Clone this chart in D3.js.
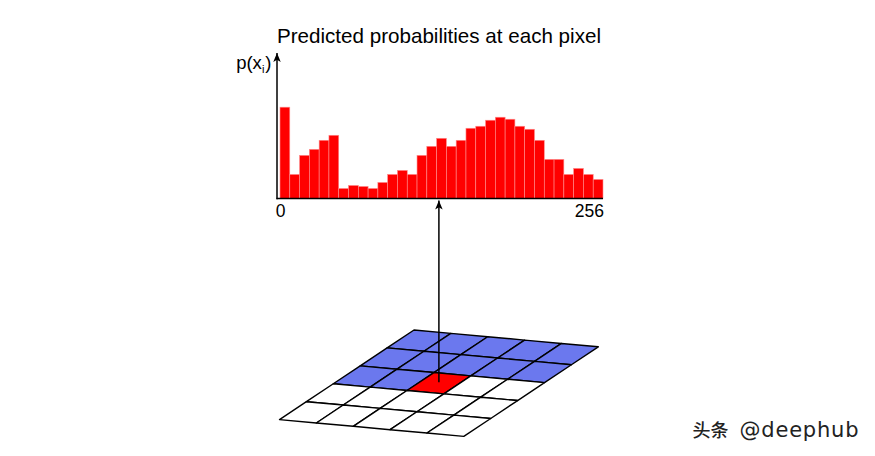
<!DOCTYPE html>
<html>
<head>
<meta charset="utf-8">
<script src="https://cdn.jsdelivr.net/npm/d3@7"></script>
<style>
  html, body { margin: 0; padding: 0; background: #fff; }
  svg { display: block; }
</style>
</head>
<body>
<script>
// ---- data ----
const title = "Predicted probabilities at each pixel";
const binValues = [91, 24, 43, 49, 58, 63, 10, 13, 12, 10, 16, 24, 28, 24, 43, 52, 60, 52, 58, 70, 72, 78, 81, 79, 72, 69, 58, 39, 39, 24, 30, 24, 19];
const xTickLabels = ["0", "256"];
const gridRows = 5;
const gridCols = 5;
// cell state per row: "b" = context (blue), "r" = current pixel, "w" = unseen
const gridMask = [
  ["b", "b", "b", "b", "b"],
  ["b", "b", "b", "b", "b"],
  ["b", "b", "r", "w", "w"],
  ["w", "w", "w", "w", "w"],
  ["w", "w", "w", "w", "w"]
];
const watermarkCJK = "头条";
const watermarkLatin = "@deephub";

// ---- drawing ----
const W = 875, H = 456;
const svg = d3.select("body").append("svg").attr("width", W).attr("height", H);

const defs = svg.append("defs");
defs.append("marker")
  .attr("id", "arrow")
  .attr("viewBox", "0 0 10 12")
  .attr("refX", 5).attr("refY", 0)
  .attr("markerWidth", 7.5).attr("markerHeight", 10.5)
  .attr("markerUnits", "userSpaceOnUse")
  .attr("orient", "0")
  .append("path")
  .attr("d", "M5,0 L10,12 L5,9 L0,12 Z")
  .attr("fill", "#000");

const fill = { b: "#6b78ee", r: "#ff0000", w: "#ffffff" };

// histogram
const baseY = 198.5;
const x = d3.scaleBand().domain(d3.range(binValues.length)).range([280, 603]).paddingInner(0);
const y = d3.scaleLinear().domain([0, 141]).range([baseY, 57]);

svg.append("g").selectAll("rect").data(binValues).join("rect")
  .attr("x", (d, i) => x(i))
  .attr("y", d => y(d))
  .attr("width", x.bandwidth())
  .attr("height", d => baseY - y(d))
  .attr("fill", "#ff0000")
  .attr("stroke", "#ff8c8c")
  .attr("stroke-width", 0.6);

// axes
svg.append("line")
  .attr("x1", 276.5).attr("x2", 603).attr("y1", baseY).attr("y2", baseY)
  .attr("stroke", "#000").attr("stroke-width", 1.5);
svg.append("line")
  .attr("x1", 277).attr("x2", 277).attr("y1", baseY + 0.75).attr("y2", 53)
  .attr("stroke", "#000").attr("stroke-width", 1.5)
  .attr("marker-end", "url(#arrow)");

const font = "'Liberation Sans', Arial, Helvetica, sans-serif";
const xLabelScale = d3.scaleLinear().domain([0, 256]).range([280.5, 604]);
svg.append("g").selectAll("text").data(xTickLabels).join("text")
  .attr("x", (d, i) => xLabelScale(+d))
  .attr("y", 216.5)
  .attr("text-anchor", (d, i) => i === 0 ? "middle" : "end")
  .attr("font-family", font).attr("font-size", 17.5)
  .attr("fill", "#000")
  .text(d => d);

// y label p(x_i)
const yl = svg.append("text")
  .attr("x", 271.5).attr("y", 68.5)
  .attr("text-anchor", "end")
  .attr("font-family", font).attr("font-size", 18.5).attr("fill", "#000");
yl.append("tspan").text("p(x");
yl.append("tspan").attr("font-size", 11).attr("dy", 4).text("i");
yl.append("tspan").attr("dy", -4).attr("dx", 1).text(")");

// title
svg.append("text")
  .attr("x", 439).attr("y", 43)
  .attr("text-anchor", "middle")
  .attr("font-family", font).attr("font-size", 20.6).attr("fill", "#000")
  .text(title);

// perspective grid (parallel projection)
const P0 = [414, 330], U = [184.3, 16.8], V = [-134.5, 89.6];
const proj = (c, r) => [P0[0] + c / gridCols * U[0] + r / gridRows * V[0],
                        P0[1] + c / gridCols * U[1] + r / gridRows * V[1]];
const cells = [];
gridMask.forEach((row, r) => row.forEach((s, c) => cells.push({ r, c, s })));
svg.append("g").selectAll("path").data(cells).join("path")
  .attr("d", d => "M" + [proj(d.c, d.r), proj(d.c + 1, d.r), proj(d.c + 1, d.r + 1), proj(d.c, d.r + 1)].join("L") + "Z")
  .attr("fill", d => fill[d.s])
  .attr("stroke", "#000")
  .attr("stroke-width", 1.4)
  .attr("stroke-linejoin", "round");

// arrow from current pixel to histogram
const red = cells.find(d => d.s === "r");
const rc = proj(red.c + 0.5, red.r + 0.5);
svg.append("line")
  .attr("x1", rc[0]).attr("x2", rc[0])
  .attr("y1", rc[1] - 1).attr("y2", baseY + 2)
  .attr("stroke", "#000").attr("stroke-width", 1.5)
  .attr("marker-end", "url(#arrow)");

// watermark
const wm = svg.append("text")
  .attr("x", 692.5).attr("y", 437)
  .attr("fill", "#222");
wm.append("tspan")
  .attr("font-family", "'Noto Sans CJK SC', sans-serif")
  .attr("font-size", 18)
  .attr("font-weight", 500)
  .text(watermarkCJK);
wm.append("tspan")
  .attr("x", 739.5)
  .attr("font-family", "'DejaVu Sans', sans-serif")
  .attr("font-size", 21)
  .attr("letter-spacing", 0.8)
  .text(watermarkLatin);
</script>
</body>
</html>
